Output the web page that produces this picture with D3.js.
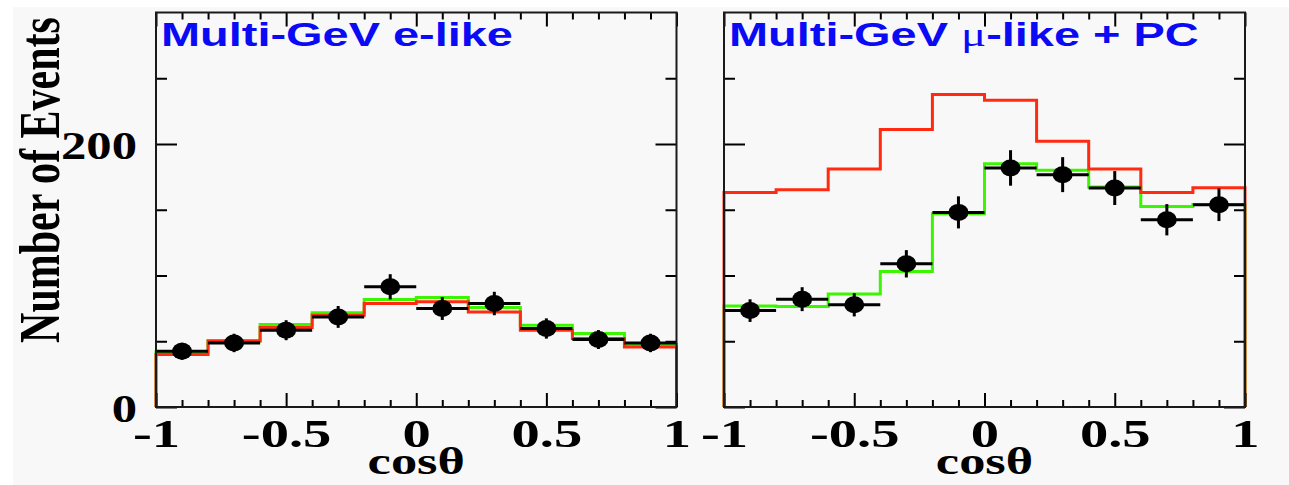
<!DOCTYPE html>
<html>
<head>
<meta charset="utf-8">
<script src="https://cdn.jsdelivr.net/npm/d3@7"></script>
<style>
  html, body { margin: 0; padding: 0; background: #f8f8f8; }
  svg { display: block; }
</style>
</head>
<body>
<svg id="chart" width="1289" height="485"></svg>
<script>
// ---- data ----
const binEdges = [-1, -0.8, -0.6, -0.4, -0.2, 0, 0.2, 0.4, 0.6, 0.8, 1];
const binCenters = [-0.9, -0.7, -0.5, -0.3, -0.1, 0.1, 0.3, 0.5, 0.7, 0.9];

// Multi-GeV e-like
const eData   = [42.4, 48.7, 58.4, 68.5, 91.4, 74.9, 78.7, 59.7, 51.3, 48.7];
const eErr    = [6.5, 7.0, 7.6, 8.3, 9.6, 8.7, 8.9, 7.7, 7.2, 7.0];
const eNoOsc  = [39.9, 50.3, 60.4, 69.8, 78.7, 80.0, 72.3, 58.4, 52.1, 45.7];
const eOsc    = [42.0, 50.0, 62.7, 71.6, 81.8, 83.3, 75.7, 62.2, 55.9, 47.5];

// Multi-GeV mu-like + PC
const muData  = [73.3, 82.0, 77.7, 108.9, 148.0, 181.8, 176.7, 166.5, 142.4, 153.8];
const muErr   = [8.6, 9.1, 8.8, 10.4, 12.2, 13.5, 13.3, 12.9, 11.9, 12.4];
const muNoOsc = [163.2, 165.3, 181.0, 211.0, 237.6, 233.3, 202.0, 181.0, 163.2, 166.8];
const muOsc   = [76.9, 76.4, 86.0, 103.0, 147.0, 185.0, 180.0, 167.3, 152.5, 154.0];

const xMajorTicks = [-1, -0.5, 0, 0.5, 1];
const xTickLabels = ["-1", "-0.5", "0", "0.5", "1"];
const xMinorTicks = [-0.9, -0.8, -0.7, -0.6, -0.4, -0.3, -0.2, -0.1, 0.1, 0.2, 0.3, 0.4, 0.6, 0.7, 0.8, 0.9];
const yMajorTicks = [0, 200];
const yTickLabels = ["0", "200"];
const yMinorTicks = [50, 100, 150, 250];
const yDomain = [0, 300];

const panels = [
  { title: ["Multi-GeV ", null, "e-like"], data: eData, err: eErr, noosc: eNoOsc, osc: eOsc, x0: 156, x1: 676.5, ylabels: true },
  { title: ["Multi-GeV ", "\u03bc", "-like + PC"], data: muData, err: muErr, noosc: muNoOsc, osc: muOsc, x0: 724, x1: 1245, ylabels: false }
];

// ---- drawing ----
const svg = d3.select("#chart");
const SX = 1.38; // horizontal stretch of the original figure
const yTop = 12.5, yBottom = 407;
const RED = "#ff2a10", GREEN = "#3cf500", BLUE = "#0a0af5";

svg.append("rect").attr("x", 0).attr("y", 0).attr("width", 1289).attr("height", 485).attr("fill", "#f8f8f8");
svg.append("rect").attr("x", 0).attr("y", 0).attr("width", 1289).attr("height", 7).attr("fill", "#ffffff");
svg.append("rect").attr("x", 0).attr("y", 0).attr("width", 13).attr("height", 485).attr("fill", "#ffffff");

const y = d3.scaleLinear().domain(yDomain).range([yBottom, yTop]);

function histPoints(vals) {
  const pts = [[binEdges[0], 0]];
  vals.forEach((v, i) => { pts.push([binEdges[i], v]); pts.push([binEdges[i + 1], v]); });
  pts.push([binEdges[binEdges.length - 1], 0]);
  return pts;
}

panels.forEach(p => {
  const x = d3.scaleLinear().domain([-1, 1]).range([p.x0, p.x1]);
  const g = svg.append("g");

  const line = d3.line().x(d => x(d[0])).y(d => y(d[1]));

  // histograms
  g.append("path").attr("d", line(histPoints(p.osc)))
    .attr("fill", "none").attr("stroke", GREEN).attr("stroke-width", 3).attr("stroke-linejoin", "miter");
  g.append("path").attr("d", line(histPoints(p.noosc)))
    .attr("fill", "none").attr("stroke", RED).attr("stroke-width", 3).attr("stroke-linejoin", "miter");

  // data points with errors
  const pts = g.append("g");
  binCenters.forEach((c, i) => {
    pts.append("line").attr("x1", x(binEdges[i])).attr("x2", x(binEdges[i + 1]))
      .attr("y1", y(p.data[i])).attr("y2", y(p.data[i]))
      .attr("stroke", "#000").attr("stroke-width", 3);
    pts.append("line").attr("x1", x(c)).attr("x2", x(c))
      .attr("y1", y(p.data[i] - p.err[i])).attr("y2", y(p.data[i] + p.err[i]))
      .attr("stroke", "#000").attr("stroke-width", 3);
    pts.append("ellipse").attr("cx", x(c)).attr("cy", y(p.data[i]))
      .attr("rx", 10).attr("ry", 8.5).attr("fill", "#000");
  });

  // axes (ticks inward)
  const ax = svg.append("g");
  const styleAxis = sel => {
    sel.select(".domain").remove();
    sel.selectAll(".tick line").attr("stroke", "#000").attr("stroke-width", 2);
  };
  ax.append("g").attr("transform", `translate(0,${yBottom})`)
    .call(d3.axisBottom(x).tickValues(xMinorTicks).tickSize(-7).tickFormat(""))
    .call(styleAxis);
  ax.append("g").attr("transform", `translate(0,${yTop})`)
    .call(d3.axisTop(x).tickValues(xMinorTicks).tickSize(-7).tickFormat(""))
    .call(styleAxis);
  ax.append("g").attr("transform", `translate(0,${yTop})`)
    .call(d3.axisTop(x).tickValues(xMajorTicks).tickSize(-14).tickFormat(""))
    .call(styleAxis);
  const xb = ax.append("g").attr("transform", `translate(0,${yBottom})`)
    .call(d3.axisBottom(x).tickValues(xMajorTicks).tickSize(-14)
      .tickFormat((d, i) => xTickLabels[i]))
    .call(styleAxis);
  xb.selectAll(".tick text")
    .attr("y", 40).attr("dy", 0)
    .attr("transform", `scale(${SX},1)`)
    .attr("fill", "#000")
    .style("font-family", "'Liberation Serif', 'Times New Roman', serif")
    .style("font-weight", "bold").style("font-size", "41px");

  ax.append("g").attr("transform", `translate(${p.x0},0)`)
    .call(d3.axisLeft(y).tickValues(yMinorTicks).tickSize(-11).tickFormat(""))
    .call(styleAxis);
  ax.append("g").attr("transform", `translate(${p.x1},0)`)
    .call(d3.axisRight(y).tickValues(yMinorTicks).tickSize(-11).tickFormat(""))
    .call(styleAxis);
  ax.append("g").attr("transform", `translate(${p.x1},0)`)
    .call(d3.axisRight(y).tickValues(yMajorTicks).tickSize(-21).tickFormat(""))
    .call(styleAxis);
  const yl = ax.append("g").attr("transform", `translate(${p.x0},0)`)
    .call(d3.axisLeft(y).tickValues(yMajorTicks).tickSize(-21)
      .tickFormat((d, i) => p.ylabels ? yTickLabels[i] : ""))
    .call(styleAxis);
  yl.selectAll(".tick text")
    .attr("x", 0).attr("dy", 0).attr("y", 14)
    .attr("text-anchor", "end")
    .attr("transform", `translate(-19,0) scale(1.3,1)`)
    .attr("fill", "#000")
    .style("font-family", "'Liberation Serif', 'Times New Roman', serif")
    .style("font-weight", "bold").style("font-size", "39px");

  // frame
  svg.append("rect").attr("x", p.x0).attr("y", yTop)
    .attr("width", p.x1 - p.x0).attr("height", yBottom - yTop)
    .attr("fill", "none").attr("stroke", "#1a1a1a").attr("stroke-width", 2);

  // title
  const t = svg.append("text")
    .attr("transform", `translate(${p.x0 + 5},46) scale(${SX},1)`)
    .attr("fill", BLUE)
    .style("font-family", "'Liberation Sans', Arial, sans-serif")
    .style("font-weight", "bold").style("font-size", "34px");
  t.append("tspan").text(p.title[0]);
  if (p.title[1]) t.append("tspan").style("font-family", "'Liberation Serif', serif").style("font-weight", "normal").text(p.title[1]);
  t.append("tspan").text(p.title[2]);

  // x title
  svg.append("text")
    .attr("transform", `translate(${(p.x0 + p.x1) / 2},474) scale(${SX},1)`)
    .attr("text-anchor", "middle").attr("fill", "#000")
    .style("font-family", "'Liberation Serif', 'Times New Roman', serif")
    .style("font-weight", "bold").style("font-size", "38px")
    .text("cos\u03b8");
});

// y title
svg.append("text")
  .attr("transform", `translate(59,180) scale(${SX},1) rotate(-90)`)
  .attr("text-anchor", "middle").attr("fill", "#000")
  .style("font-family", "'Liberation Serif', 'Times New Roman', serif")
  .style("font-weight", "bold").style("font-size", "42px")
  .text("Number of Events");
</script>
</body>
</html>
